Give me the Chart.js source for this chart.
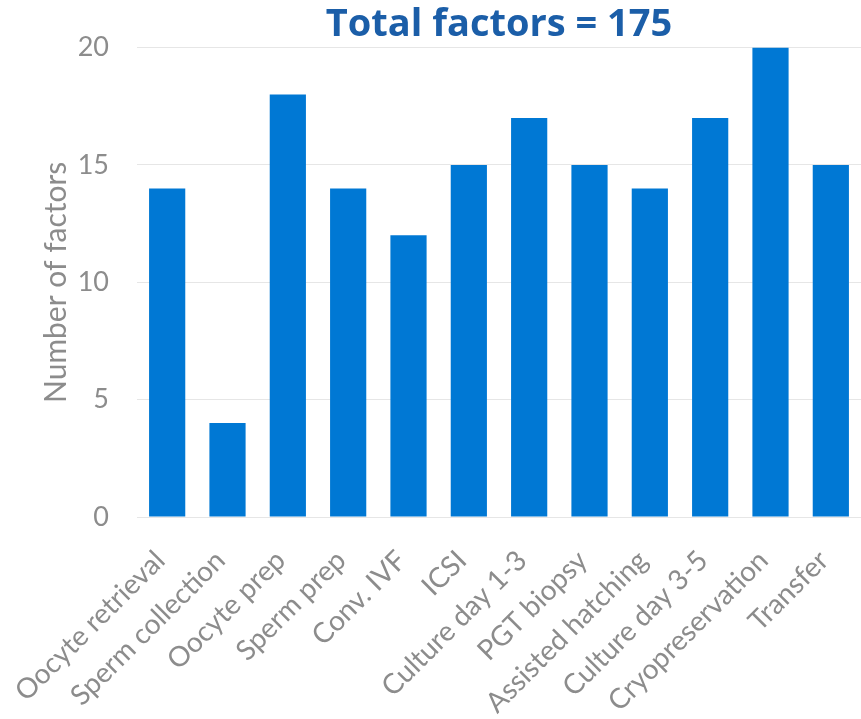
<!DOCTYPE html>
<html>
<head>
<meta charset="utf-8">
<script src="https://cdn.jsdelivr.net/npm/chart.js@4/dist/chart.umd.min.js"></script>
<style>
  html, body { margin: 0; padding: 0; background: #fff; }
  #wrap { width: 861px; height: 719px; }
</style>
</head>
<body>
<div id="wrap"><canvas id="fatores"></canvas></div>
<script>
const etapas = ['Oocyte retrieval', 'Sperm collection', 'Oocyte prep', 'Sperm prep', 'Conv. IVF', 'ICSI',
  'Culture day 1-3', 'PGT biopsy', 'Assisted hatching', 'Culture day 3-5', 'Cryopreservation', 'Transfer'];
const fatores = [14, 4, 18, 14, 12, 15, 17, 15, 14, 17, 20, 15];
const ticksY = [0, 5, 10, 15, 20];

const total = fatores.reduce((a, b) => a + b, 0);
const cinza = '#8c8c8c';

const grafico = document.getElementById('fatores');

new Chart(grafico, {
  type: 'bar',
  data: {
    labels: etapas,
    datasets: [{
      label: 'Number of factors',
      data: fatores,
      backgroundColor: '#0078d4',
      borderWidth: 0,
      barPercentage: 0.6,
      categoryPercentage: 1
    }]
  },
  options: {
    responsive: true,
    maintainAspectRatio: false,
    animation: false,
    layout: { padding: 0 },
    plugins: {
      legend: { display: false },
      tooltip: { enabled: false },
      title: {
        display: true,
        text: 'Total factors = ' + total,
        fullSize: false,
        color: '#1b5ea8',
        font: { family: 'Open Sans', size: 38, weight: 'bold' },
        padding: { top: 2, bottom: 0 }
      }
    },
    scales: {
      x: {
        grid: { display: false },
        border: { display: false },
        ticks: {
          autoSkip: false,
          minRotation: 45,
          maxRotation: 45,
          padding: 19,
          labelOffset: -7,
          color: cinza,
          font: { family: 'Lato', size: 28 }
        },
        // altura fixa do eixo e sem folga lateral para os rótulos inclinados
        afterFit: (escala) => {
          escala.height = 202;
          escala.paddingLeft = 0;
          escala.paddingRight = 0;
        }
      },
      y: {
        min: 0,
        max: 20,
        afterBuildTicks: (escala) => { escala.ticks = ticksY.map(v => ({ value: v })); },
        grid: { color: '#e6e6e6', drawTicks: false },
        border: { display: false },
        ticks: {
          padding: 28,
          color: cinza,
          font: { family: 'Lato', size: 27 }
        },
        title: {
          display: true,
          text: 'Number of factors',
          color: cinza,
          font: { family: 'Lato', size: 30 },
          padding: { top: 38, bottom: 0 }
        },
        afterFit: (escala) => { escala.width = 137; }
      }
    }
  }
});
</script>
</body>
</html>
